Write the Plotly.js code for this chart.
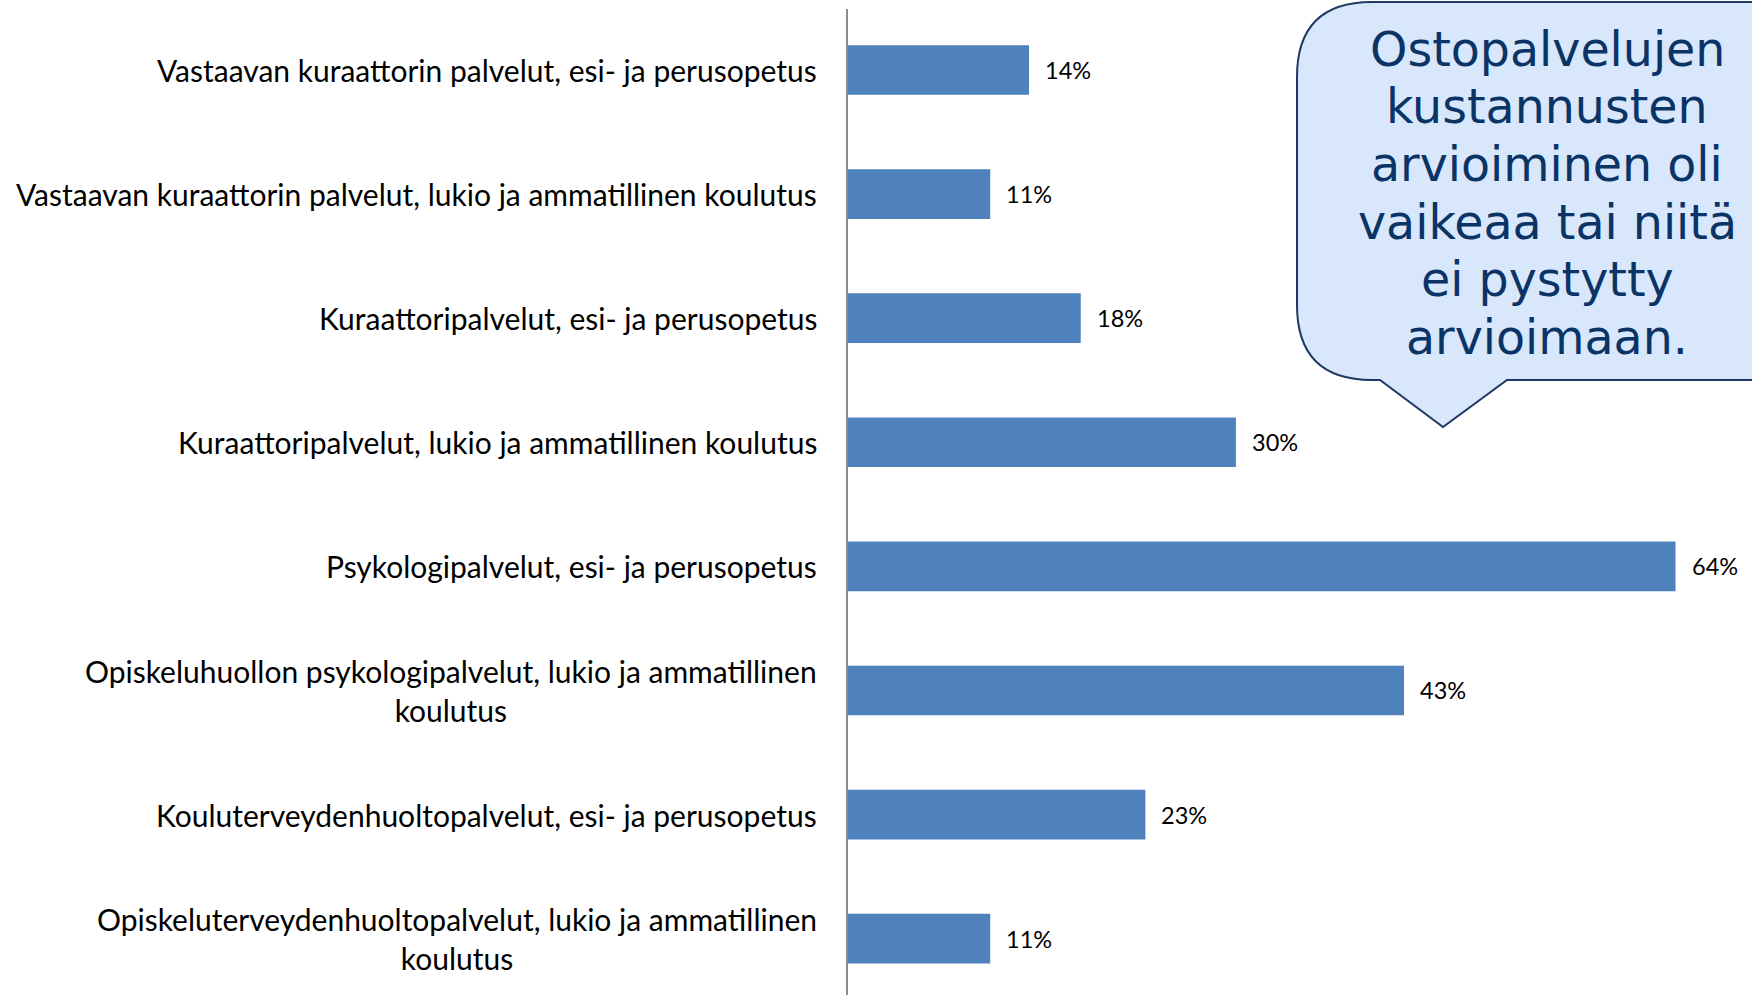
<!DOCTYPE html>
<html>
<head>
<meta charset="utf-8">
<script src="https://cdn.plot.ly/plotly-3.0.1.min.js"></script>
<style>html,body{margin:0;padding:0;background:#fff;}#chart{width:1752px;height:995px;}</style>
</head>
<body>
<div id="chart"></div>
<script>
const categories = [
  "Vastaavan kuraattorin palvelut, esi- ja perusopetus",
  "Vastaavan kuraattorin palvelut, lukio ja ammatillinen koulutus",
  "Kuraattoripalvelut, esi- ja perusopetus",
  "Kuraattoripalvelut, lukio ja ammatillinen koulutus",
  "Psykologipalvelut, esi- ja perusopetus",
  "Opiskeluhuollon psykologipalvelut, lukio ja ammatillinen<br>koulutus",
  "Kouluterveydenhuoltopalvelut, esi- ja perusopetus",
  "Opiskeluterveydenhuoltopalvelut, lukio ja ammatillinen<br>koulutus"
];
const values = [14, 11, 18, 30, 64, 43, 23, 11];
const valueLabels = values.map(v => v + "%");
const calloutLines = [
  "Ostopalvelujen",
  "kustannusten",
  "arvioiminen oli",
  "vaikeaa tai niitä",
  "ei pystytty",
  "arvioimaan."
];

// layout geometry (pixels)
const W = 1752, H = 995;
const M = {l: 848, r: 0, t: 9, b: 0};
const PW = W - M.l - M.r, PH = H - M.t - M.b;
const px = x => (x - M.l) / PW;
const py = y => 1 - (y - M.t) / PH;

const trace = {
  type: "bar",
  orientation: "h",
  x: values,
  y: categories,
  width: 0.4,
  marker: {color: "#4f81bd"},
  hoverinfo: "none"
};

const annotations = [];
categories.forEach((c, i) => {
  annotations.push({
    xref: "paper", yref: "y", x: px(819), y: c,
    xanchor: "right", yanchor: "middle", align: "center",
    text: c, showarrow: false,
    font: {family: "Lato, 'Noto Sans', sans-serif", size: 30, color: "#000"}
  });
  annotations.push({
    xref: "x", yref: "y", x: values[i], y: c,
    xanchor: "left", yanchor: "middle", xshift: 14,
    text: valueLabels[i], showarrow: false,
    font: {family: "Lato, 'Noto Sans', sans-serif", size: 23.5, color: "#000"}
  });
});
const baselines = [66, 123, 180, 238, 295, 353];
calloutLines.forEach((t, i) => {
  annotations.push({
    xref: "paper", yref: "paper", x: px(1547), y: py(baselines[i] - 16),
    xanchor: "center", yanchor: "middle",
    text: t, showarrow: false,
    font: {family: "'DejaVu Sans', Verdana, sans-serif", size: 47.5, color: "#0a3366"}
  });
});

// callout bubble
const L = 1297, T = 2, R = 1830, B = 380, r = 75;
const P = (x, y) => px(x).toFixed(5) + "," + py(y).toFixed(5);
const path = "M" + P(L + r, T) + " L" + P(R - r, T) + " Q" + P(R, T) + " " + P(R, T + r) +
  " L" + P(R, B - r) + " Q" + P(R, B) + " " + P(R - r, B) +
  " L" + P(1507, B) + " L" + P(1443, 427) + " L" + P(1380, B) +
  " L" + P(L + r, B) + " Q" + P(L, B) + " " + P(L, B - r) +
  " L" + P(L, T + r) + " Q" + P(L, T) + " " + P(L + r, T) + " Z";

const layout = {
  width: W, height: H,
  margin: M,
  paper_bgcolor: "#fff", plot_bgcolor: "#fff",
  showlegend: false,
  xaxis: {range: [0, PW / 12.93], showgrid: false, zeroline: false, showticklabels: false, showline: false, ticks: ""},
  yaxis: {type: "category", range: [7.454, -0.4915], showgrid: false, zeroline: false, showticklabels: false,
          showline: true, linecolor: "#8c8c8c", linewidth: 2, ticks: ""},
  shapes: [{type: "path", xref: "paper", yref: "paper", path: path,
            fillcolor: "#d8e7fb", line: {color: "#1f3864", width: 2}, layer: "above"}],
  annotations: annotations
};

Plotly.newPlot("chart", [trace], layout, {displayModeBar: false, staticPlot: true});
</script>
</body>
</html>
